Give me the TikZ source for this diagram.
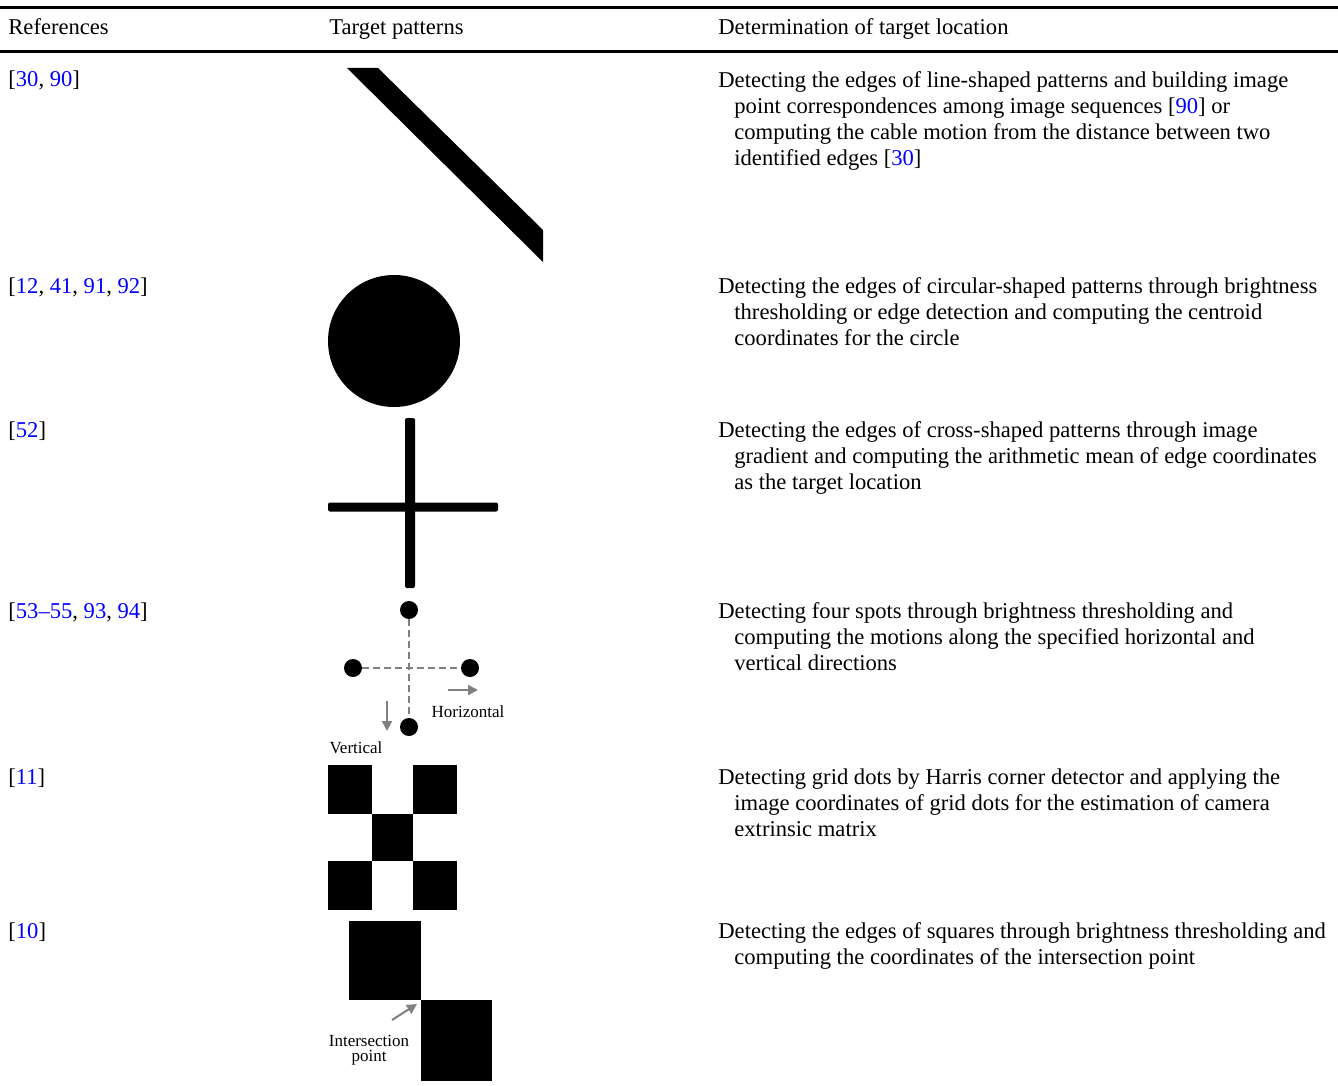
\documentclass[tikz,border=0pt]{standalone}
\usepackage{fontspec}
\setmainfont{Liberation Serif}
\usetikzlibrary{arrows.meta}
\definecolor{citeblue}{RGB}{0,0,255}
\newcommand{\cit}[1]{\textcolor{citeblue}{#1}}

\begin{document}
\begin{tikzpicture}[x=0.5pt, y=-0.5pt,
    cell/.style={anchor=base west, inner sep=0, font=\fontsize{11.3}{13}\selectfont},
    desc/.style={cell, align=left},
    lbl/.style={inner sep=0, font=\fontsize{8.5}{7.5}\selectfont},
    spot/.style={circle, fill=black, inner sep=0, minimum size=9pt},
    guide/.style={draw=gray, line width=1pt, dash pattern=on 3.5pt off 2pt},
    dir/.style={draw=gray, line width=1pt, -{Triangle[length=5pt, width=5pt]}}]
    \useasboundingbox (0,0) rectangle (1338,1086);

    % rules
    \draw[line width=1.5pt] (0,7.5) -- (1338,7.5);
    \draw[line width=1.5pt] (0,51.5) -- (1338,51.5);

    % header
    \node[cell] (hdref) at (8,35) {References};
    \node[cell] (hdpat) at (329,35) {Target patterns};
    \node[cell] (hddet) at (718,35) {Determination of target location};

    % references
    \node[cell] (ref1) at (8,87) {[\cit{30}, \cit{90}]};
    \node[cell] (ref2) at (8,293) {[\cit{12}, \cit{41}, \cit{91}, \cit{92}]};
    \node[cell] (ref3) at (8,437) {[\cit{52}]};
    \node[cell] (ref4) at (8,618) {[\cit{53--55}, \cit{93}, \cit{94}]};
    \node[cell] (ref5) at (8,784) {[\cit{11}]};
    \node[cell] (ref6) at (8,938) {[\cit{10}]};

    % descriptions (base = last line)
    \node[desc] (desc1) at (718,165) {Detecting the edges of line-shaped patterns and building image\\
        \hspace*{8pt}point correspondences among image sequences [\cit{90}] or\\
        \hspace*{8pt}computing the cable motion from the distance between two\\
        \hspace*{8pt}identified edges [\cit{30}]};
    \node[desc] (desc2) at (718,345) {Detecting the edges of circular-shaped patterns through brightness\\
        \hspace*{8pt}thresholding or edge detection and computing the centroid\\
        \hspace*{8pt}coordinates for the circle};
    \node[desc] (desc3) at (718,489) {Detecting the edges of cross-shaped patterns through image\\
        \hspace*{8pt}gradient and computing the arithmetic mean of edge coordinates\\
        \hspace*{8pt}as the target location};
    \node[desc] (desc4) at (718,670) {Detecting four spots through brightness thresholding and\\
        \hspace*{8pt}computing the motions along the specified horizontal and\\
        \hspace*{8pt}vertical directions};
    \node[desc] (desc5) at (718,836) {Detecting grid dots by Harris corner detector and applying the\\
        \hspace*{8pt}image coordinates of grid dots for the estimation of camera\\
        \hspace*{8pt}extrinsic matrix};
    \node[desc] (desc6) at (718,964) {Detecting the edges of squares through brightness thresholding and\\
        \hspace*{8pt}computing the coordinates of the intersection point};

    % line pattern
    \fill (347,68) -- (378,68) -- (543,230) -- (543,262) -- cycle;

    % circular pattern
    \fill (394,341) circle (33pt);

    % cross pattern
    \fill[rounded corners=1pt] (405,418) rectangle (415,588);
    \fill[rounded corners=1pt] (328,502.5) rectangle (498,511.5);

    % four spots
    \node[spot] (top) at (409,610) {};
    \node[spot] (lft) at (353,668) {};
    \node[spot] (rgt) at (470,668) {};
    \node[spot] (bot) at (409,727) {};
    \draw[guide] (top) -- (bot);
    \draw[guide] (lft) -- (rgt);
    \coordinate (h0) at (448,690);
    \coordinate (h1) at (478,690);
    \coordinate (v0) at (387,701);
    \coordinate (v1) at (387,731);
    \draw[dir] (h0) -- (h1);
    \draw[dir] (v0) -- (v1);
    \node[lbl] (horiz) at (468,712) {Horizontal};
    \node[lbl] (vert) at (356,748) {Vertical};

    % grid dots
    \fill (328,765) rectangle (372,814);
    \fill (413,765) rectangle (457,814);
    \fill (372,814) rectangle (413,861);
    \fill (328,861) rectangle (372,910);
    \fill (413,861) rectangle (457,910);

    % two squares
    \fill (349,921) rectangle (421,1000);
    \fill (421,1000) rectangle (492,1081);
    \coordinate (ip0) at (392,1020);
    \coordinate (ip1) at (417,1004);
    \draw[dir] (ip0) -- (ip1);
    \node[lbl, align=center] (isect) at (369,1050) {Intersection\\point};
\end{tikzpicture}
\end{document}
